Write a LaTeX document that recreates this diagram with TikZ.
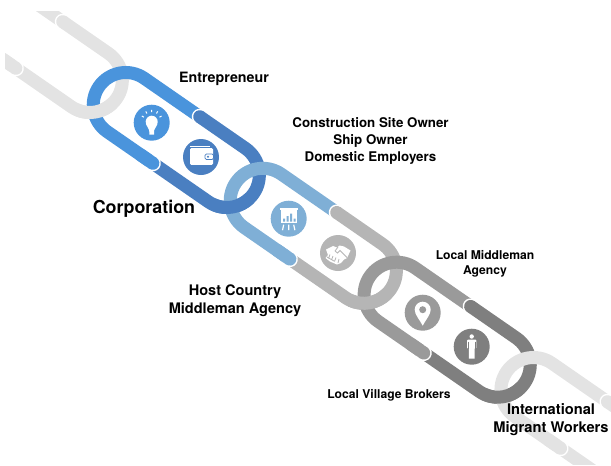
\documentclass[tikz,border=0pt]{standalone}
\usepackage{fontspec}
\setmainfont{TeX Gyre Heros}
\usetikzlibrary{calc}

\definecolor{fade}{HTML}{E3E3E3}
\definecolor{blueA}{HTML}{4A94DC}
\definecolor{blueB}{HTML}{4A7FC1}
\definecolor{blueC}{HTML}{7FAFD6}
\definecolor{greyA}{HTML}{B5B5B5}
\definecolor{greyB}{HTML}{9A9A9A}
\definecolor{greyC}{HTML}{7F7F7F}

% one link of the chain: centre x, centre y, first colour, second colour
\newcommand{\chainlink}[4]{%
  \begin{scope}[shift={(#1,#2)},rotate=-34.7]
    \draw[band,#3] (6,-32.5) -- (-61.5,-32.5) arc (-90:-270:32.5) -- (-6,32.5);
    \fill[white] (6,-32.5) circle (8);
    \draw[band,#4] (-6,32.5) -- (61.5,32.5) arc (90:-90:32.5) -- (6,-32.5);
    \fill[#4] (6,-32.5) circle (6.5);
    \fill[white] (-6,32.5) circle (8);
    \draw[band,#3] (-22,32.5) -- (-6,32.5);
    \fill[#3] (-6,32.5) circle (6.5);
  \end{scope}}
% lower crossing: the earlier link passes over the later one
\newcommand{\chainover}[3]{%
  \begin{scope}[shift={(#1,#2)},rotate=-34.7]
    \draw[band,#3] (61.5,0) ++(80:32.5) arc (80:10:32.5);
  \end{scope}}

\begin{document}
\begin{tikzpicture}[x=0.75pt,y=-0.75pt,align=center]
  \tikzset{%
    band/.style = {line width=9.75pt},
    icon/.style = {circle, minimum size=27pt, inner sep=0pt},
    glyph/.style = {white, line width=0.9pt},
    tagS/.style = {inner sep=0pt, font=\fontsize{9.1}{11.2}\selectfont\bfseries},
    tagM/.style = {inner sep=0pt, font=\fontsize{10}{12.75}\selectfont\bfseries},
    tagL/.style = {inner sep=0pt, font=\fontsize{10.9}{13.5}\selectfont\bfseries},
    tagX/.style = {inner sep=0pt, font=\fontsize{13.4}{16}\selectfont\bfseries},
  }
  \useasboundingbox (0,0) rectangle (611,465);

  % the chain, cut off at the edges of the picture
  \begin{scope}
    \clip (5,11) rectangle (611,464);
    \chainlink{39.3}{45}{fade}{fade}
    \chainlink{176.3}{140}{blueA}{blueB}
    \chainover{39.3}{45}{fade}
    \chainlink{313.3}{235.8}{blueC}{greyA}
    \chainover{176.3}{140}{blueB}
    \chainlink{447.2}{329.7}{greyB}{greyC}
    \chainover{313.3}{235.8}{greyA}
    \chainlink{584}{425}{fade}{fade}
    \chainover{447.2}{329.7}{greyC}
  \end{scope}

  % icons
  \node (bulb) [icon, fill=blueA] at (151.7,122.7) {};
  \node (wallet) [icon, fill=blueB] at (201,157) {};
  \node (chart) [icon, fill=blueC] at (288.7,218.7) {};
  \node (hands) [icon, fill=greyA] at (338,253) {};
  \node (pin) [icon, fill=greyB] at (422.7,312.7) {};
  \node (man) [icon, fill=greyC] at (471.7,346.7) {};

  \begin{scope}[shift={(bulb.center)}]
    \fill[white] (-2.3,12) -- (2.3,12) -- (2.5,7.5) .. controls (3,4.5) and (6,3.5) .. (6,-1)
      arc (0:-180:6) .. controls (-6,3.5) and (-3,4.5) .. (-2.5,7.5) -- cycle;
    \draw[glyph, line width=0.75pt] (0,-1) ++(-150:9) -- ++(-150:2.4) (0,-1) ++(-120:9.5) -- ++(-120:2.4)
      (0,-1) ++(-90:9.5) -- ++(-90:2.4) (0,-1) ++(-60:9.5) -- ++(-60:2.4) (0,-1) ++(-30:9) -- ++(-30:2.4);
  \end{scope}

  \begin{scope}[shift={(wallet.center)}]
    \draw[glyph] (-11,-10.6) -- (9,-10.6);
    \fill[white, rounded corners=0.8pt] (-11,-8.8) rectangle (12,7.8);
    \fill[white, rounded corners=1pt, draw=blueB, line width=0.6pt] (4,-3) rectangle (12.5,2.4);
    \fill[blueB] (7,-0.3) circle (1.1);
  \end{scope}

  \begin{scope}[shift={(chart.center)}]
    \fill[white] (-9,-10.5) rectangle (9,-8.5);
    \fill[white] (-8,-9) rectangle (8,4.5);
    \fill[blueC] (-5.5,2.8) rectangle (-3.5,0) (-2,2.8) rectangle (0,-2.5)
      (1.5,2.8) rectangle (3.5,-5) (5,2.8) rectangle (6.8,0);
    \draw[glyph] (-5,6) -- (-6.2,11.5) (0,6) -- (0,11.5) (5,6) -- (6.2,11.5);
  \end{scope}

  \begin{scope}[shift={(hands.center)}]
    \fill[white] (-12,-3.5) -- (-5,-7) -- (-1,-5.5) -- (1.5,-7.5) -- (6,-6.5) -- (12.5,-2.5)
      -- (9,5) -- (6,6.5) -- (3,10) -- (-1,11.5) -- (-8,8.5) -- (-12.5,5) -- (-10,2) -- cycle;
    \draw[greyA, line width=0.6pt] (-3,-2) -- (0,-6) (-3,-2) -- (-0.5,0) -- (2,-2.5) -- (9,4.5)
      (-11,4) -- (-4,8) (-8,1.5) -- (-9.5,5.5) (-5,3) -- (-6.5,7) (-2,4.5) -- (-3.5,8.5)
      (1,6) -- (0,10);
  \end{scope}

  \begin{scope}[shift={(pin.center)}]
    \fill[white] (0,13) .. controls (-3,7) and (-8,2) .. (-8,-3) arc (180:360:8)
      .. controls (8,2) and (3,7) .. (0,13) -- cycle;
    \fill[greyB] (0,-3) circle (3.5);
  \end{scope}

  \begin{scope}[shift={(man.center)}]
    \fill[white] (0,-10.2) circle (2.2);
    \fill[white, rounded corners=0.7pt] (-4.6,-7.2) rectangle (4.6,2);
    \fill[white] (-2.9,0) rectangle (-0.2,12) (0.2,0) rectangle (2.9,12);
    \draw[greyC, line width=0.35pt] (-3.3,-5) -- (-3.3,2.2) (3.3,-5) -- (3.3,2.2);
  \end{scope}

  % labels
  \node (founder) [tagM, font=\fontsize{10.7}{13}\selectfont\bfseries] at (224,79) {Entrepreneur};
  \node (corp) [tagX] at (144,208.5) {Corporation};
  \node (owners) [tagM] at (370.5,141) {Construction Site Owner\\Ship Owner\\Domestic Employers};
  \node (hostagency) [tagL] at (235,301) {Host Country\\Middleman Agency};
  \node (localagency) [tagS] at (485,263.5) {Local Middleman\\Agency};
  \node (brokers) [tagS] at (389,395) {Local Village Brokers};
  \node (migrants) [tagL, font=\fontsize{11}{13.5}\selectfont\bfseries] at (551,419.5) {International\\Migrant Workers};
\end{tikzpicture}
\end{document}
